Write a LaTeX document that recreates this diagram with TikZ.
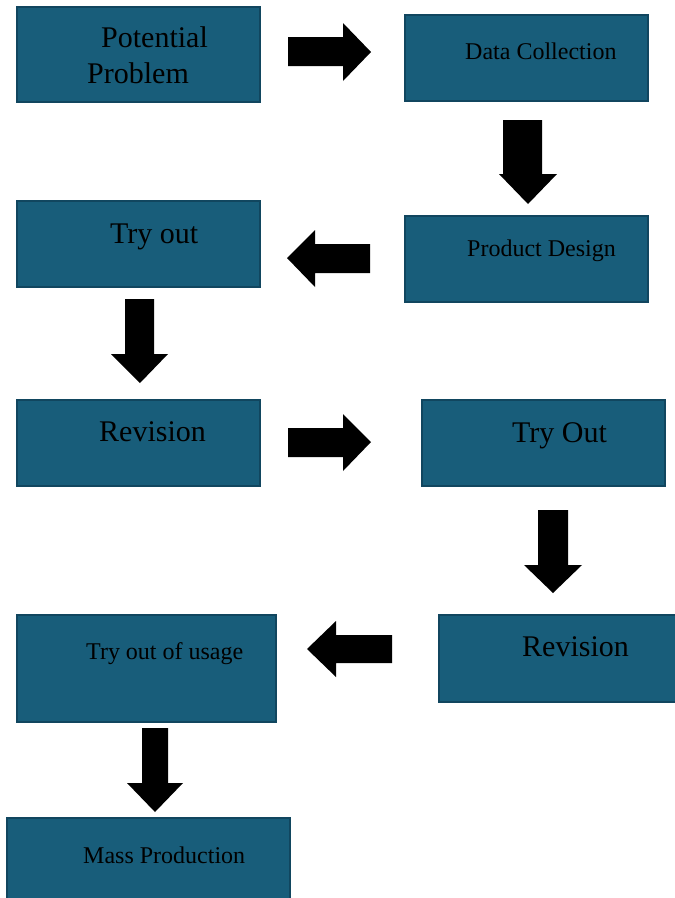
\documentclass[tikz,border=0pt]{standalone}
\usepackage{fontspec}
\setmainfont{Liberation Serif}
\tikzset{
  box/.style={draw=boxedge, fill=boxfill, line width=2pt, anchor=north west, inner sep=0pt},
  big/.style={anchor=base west, inner sep=0pt, font=\fontsize{30}{30}\selectfont, text=black},
  small/.style={anchor=base west, inner sep=0pt, font=\fontsize{24}{24}\selectfont, text=black},
  blockarrow/.style={fill=black, draw=none}
}
\definecolor{boxfill}{RGB}{24,93,122}
\definecolor{boxedge}{RGB}{17,70,95}
\begin{document}
\begin{tikzpicture}[x=1pt, y=-1pt]
\useasboundingbox (0,0) rectangle (675,898);
\clip (0,0) rectangle (675,898);
% boxes
\node[box, minimum width=243pt, minimum height=95pt] (b1) at (16,6) {};
\node[box, minimum width=243pt, minimum height=86pt] (b2) at (404,14) {};
\node[box, minimum width=243pt, minimum height=86pt] (b3) at (404,215) {};
\node[box, minimum width=243pt, minimum height=86pt] (b4) at (16,200) {};
\node[box, minimum width=243pt, minimum height=86pt] (b5) at (16,399) {};
\node[box, minimum width=243pt, minimum height=86pt] (b6) at (421,399) {};
\node[box, minimum width=248pt, minimum height=87pt] (b7) at (438,614) {};
\node[box, minimum width=259pt, minimum height=107pt] (b8) at (16,614) {};
\node[box, minimum width=283pt, minimum height=95pt] (b9) at (6,817) {};
% texts
\node[big] (t1a) at (101,47) {Potential};
\node[big] (t1b) at (87,83) {Problem};
\node[small] (t2) at (465,59) {Data Collection};
\node[small] (t3) at (467,256) {Product Design};
\node[big] (t4) at (110,243) {Try out};
\node[big] (t5) at (99,441) {Revision};
\node[big] (t6) at (512,442) {Try Out};
\node[big] (t7) at (522,656) {Revision};
\node[small] (t8) at (86,659) {Try out of usage};
\node[small] (t9) at (83,863) {Mass Production};
% block arrows
\fill[blockarrow] (288,37) -- (343,37) -- (343,23) -- (371,52) -- (343,81) -- (343,66) -- (288,66) -- cycle;
\fill[blockarrow] (503,120) -- (542,120) -- (542,174) -- (557,174) -- (528,204) -- (499,174) -- (503,174) -- cycle;
\fill[blockarrow] (287,258) -- (315,230) -- (315,244) -- (370,244) -- (370,273) -- (315,273) -- (315,287) -- cycle;
\fill[blockarrow] (125,299) -- (154,299) -- (154,354) -- (168,354) -- (140,383) -- (111,354) -- (125,354) -- cycle;
\fill[blockarrow] (288,428) -- (343,428) -- (343,414) -- (371,442) -- (343,471) -- (343,457) -- (288,457) -- cycle;
\fill[blockarrow] (538,510) -- (568,510) -- (568,565) -- (582,565) -- (553,593) -- (524,565) -- (538,565) -- cycle;
\fill[blockarrow] (307,649) -- (336,621) -- (336,635) -- (392,635) -- (392,663) -- (336,663) -- (336,677) -- cycle;
\fill[blockarrow] (142,728) -- (168,728) -- (168,783) -- (183,783) -- (155,812) -- (127,783) -- (142,783) -- cycle;
\end{tikzpicture}
\end{document}
